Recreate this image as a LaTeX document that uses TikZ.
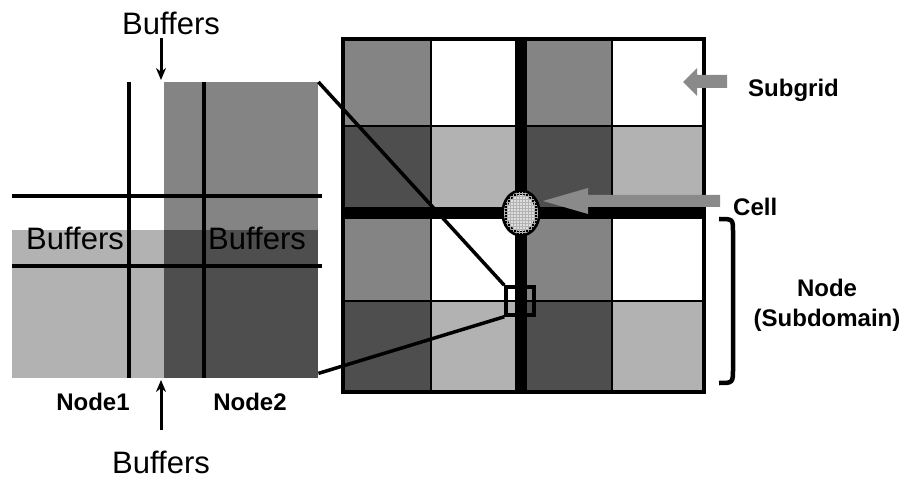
\documentclass[tikz,border=0pt]{standalone}
\usepackage{fontspec}
\setmainfont{Liberation Sans}
\usetikzlibrary{arrows.meta,patterns,shapes.geometric}
\definecolor{lightg}{HTML}{B2B2B2}
\definecolor{midg}{HTML}{848484}
\definecolor{darkg}{HTML}{4E4E4E}
\definecolor{arrg}{HTML}{8A8A8A}
\begin{document}
\begin{tikzpicture}[x=1pt,y=-1pt,
  buf/.style={font=\fontsize{31}{34}\selectfont, inner sep=0pt},
  lab/.style={font=\bfseries\fontsize{24}{30}\selectfont, inner sep=0pt, align=center},
  panelline/.style={line width=3.5pt},
  gridline/.style={line width=2.2pt},
  crossline/.style={line width=12pt},
  conn/.style={line width=3.5pt},
  thinarrow/.style={line width=3pt, -{Stealth[length=12pt,width=10pt]}},
  blockarrow/.style={fill=arrg}]
\useasboundingbox (0,0) rectangle (910,481);
% ---------- left panel ----------
\fill[lightg] (12,230) rectangle (164,378);
\node[fill=midg, minimum width=154pt, minimum height=148pt, inner sep=0pt, anchor=north west] (n2top) at (164,82) {};
\node[fill=darkg, minimum width=154pt, minimum height=148pt, inner sep=0pt, anchor=north west] (n2bot) at (164,230) {};
\draw[panelline] (129,82) -- (129,378);
\draw[panelline] (204,82) -- (204,378);
\draw[panelline] (12,196) -- (322,196);
\draw[panelline] (12,266) -- (322,266);
\node[buf] (bufl) at (75,238) {Buffers};
\node[buf] (bufr) at (257,238) {Buffers};
\node[buf] (buftop) at (171,23) {Buffers};
\node[buf] (bufbot) at (161,462) {Buffers};
\node[lab] (node1) at (93,402) {Node1};
\node[lab] (node2) at (250,402) {Node2};
\coordinate (topin) at (161,80);
\coordinate (topstart) at (161,38);
\coordinate (botin) at (161,380);
\coordinate (botstart) at (161,430);
\draw[thinarrow] (topstart) -- (topin);
\draw[thinarrow] (botstart) -- (botin);
% ---------- right grid ----------
\foreach \ya/\yb in {37/126, 213/301}{
  \fill[midg] (341,\ya) rectangle (431,\yb);
  \fill[white] (431,\ya) rectangle (521,\yb);
  \fill[midg] (521,\ya) rectangle (612,\yb);
  \fill[white] (612,\ya) rectangle (702,\yb);
}
\foreach \ya/\yb in {126/213, 301/390}{
  \fill[darkg] (341,\ya) rectangle (431,\yb);
  \fill[lightg] (431,\ya) rectangle (521,\yb);
  \fill[darkg] (521,\ya) rectangle (612,\yb);
  \fill[lightg] (612,\ya) rectangle (702,\yb);
}
\draw[gridline] (431,37) -- (431,390);
\draw[gridline] (612,37) -- (612,390);
\draw[gridline] (341,126) -- (702,126);
\draw[gridline] (341,301) -- (702,301);
\node[draw, line width=4pt, minimum width=361pt, minimum height=353pt, inner sep=0pt, anchor=north west] (grid) at (341,37) {};
\draw[crossline] (521,37) -- (521,390);
\draw[crossline] (341,213) -- (702,213);
% square and connectors
\node[draw, line width=3.5pt, minimum size=28pt, inner sep=0pt] (sq) at (520,301) {};
\draw[conn] (n2top.north east) -- (sq.north west);
\draw[conn] ([yshift=5pt]n2bot.south east) -- (sq.south west);
% cell
\node[ellipse, draw, line width=5.5pt, minimum width=34pt, minimum height=42pt, inner sep=0pt,
      fill=gray!25, postaction={pattern=grid, pattern color=gray!60}] (cell) at (521,213) {};
% block arrows
\fill[blockarrow] (683,82) -- (697,68) -- (697,75) -- (727,75) -- (727,88) -- (697,88) -- (697,96) -- cycle;
\fill[blockarrow] (543,201) -- (588,188) -- (588,195) -- (720,195) -- (720,207) -- (588,207) -- (588,214) -- cycle;
% labels
\node[lab, anchor=west] (subgrid) at (748,90) {Subgrid};
\node[lab, anchor=west] (celllab) at (733,207) {Cell};
\node[lab] (nodesub) at (827,305) {Node\\(Subdomain)};
% bracket
\draw[line width=4.5pt] (719,219) .. controls (733,219) .. (733,232) -- (733,368) .. controls (733,383) .. (719,383);
\end{tikzpicture}
\end{document}
